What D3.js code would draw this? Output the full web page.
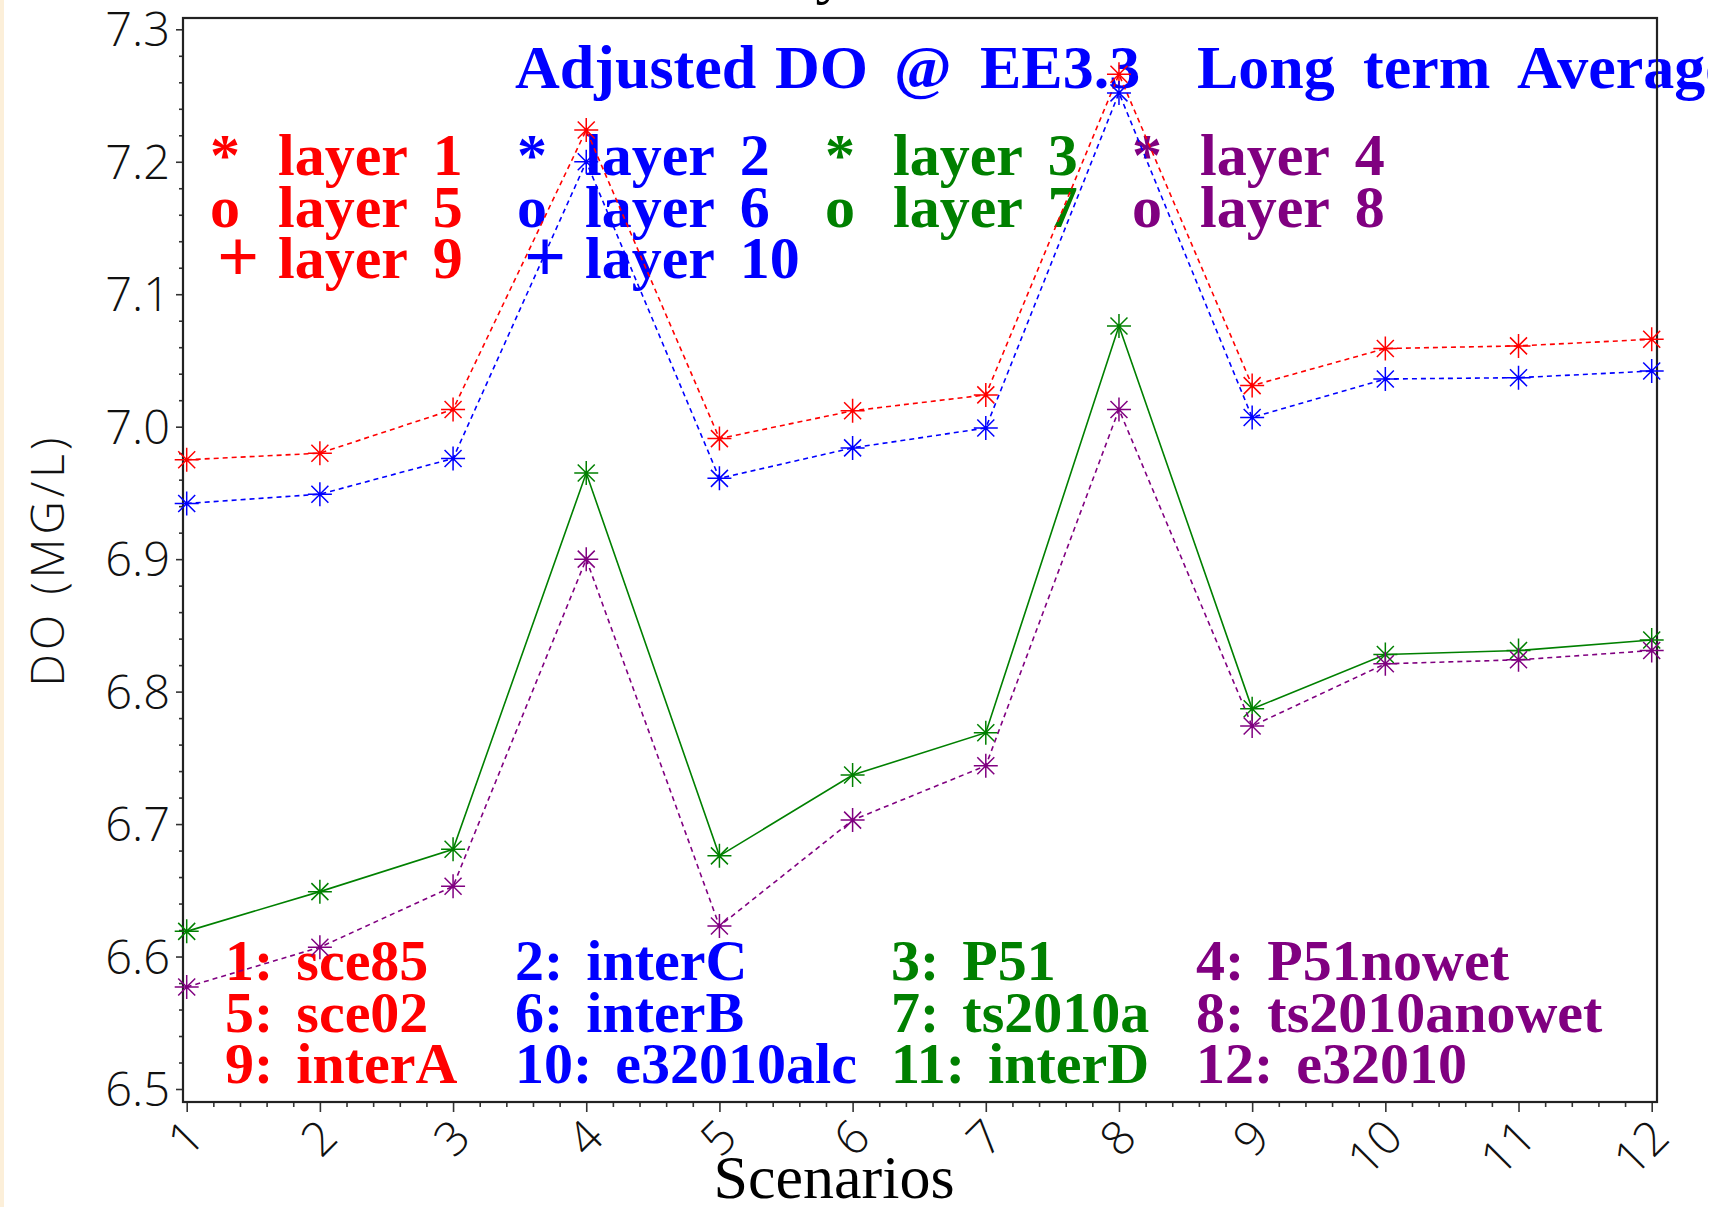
<!DOCTYPE html>
<html>
<head>
<meta charset="utf-8">
<script src="https://cdn.jsdelivr.net/npm/d3@7"></script>
<style>
  body { margin: 0; background: #ffffff; }
  svg { display: block; }
  .serif { font-family: "Liberation Serif", "Times New Roman", serif; }
  .hershey { font-family: "Open Sans", "DejaVu Sans", sans-serif; font-weight: 300; }
</style>
</head>
<body>
<svg id="chart" width="1720" height="1207"></svg>
<script>
// ---------------- data ----------------
const scenarios = [1, 2, 3, 4, 5, 6, 7, 8, 9, 10, 11, 12];
const layer1 = [6.975, 6.980, 7.013, 7.224, 6.991, 7.012, 7.024, 7.266, 7.031, 7.059, 7.061, 7.066];
const layer2 = [6.942, 6.949, 6.976, 7.200, 6.961, 6.984, 6.999, 7.252, 7.007, 7.036, 7.037, 7.042];
const layer3 = [6.619, 6.649, 6.681, 6.965, 6.676, 6.737, 6.769, 7.076, 6.787, 6.828, 6.831, 6.839];
const layer4 = [6.577, 6.607, 6.653, 6.900, 6.623, 6.703, 6.744, 7.013, 6.774, 6.821, 6.824, 6.831];
const yTickLabels = ["6.5", "6.6", "6.7", "6.8", "6.9", "7.0", "7.1", "7.2", "7.3"];
const xTickLabels = ["1", "2", "3", "4", "5", "6", "7", "8", "9", "10", "11", "12"];
const layerLabels = ["layer  1", "layer  2", "layer  3", "layer  4", "layer  5", "layer  6",
                     "layer  7", "layer  8", "layer  9", "layer  10"];
const layerSymbols = ["*", "o", "+"];
const scenarioNames = ["sce85", "interC", "P51", "P51nowet", "sce02", "interB",
                       "ts2010a", "ts2010anowet", "interA", "e32010alc", "interD", "e32010"];
const titleWords = ["Adjusted", "DO", "@", "EE3.3", "Long", "term", "Average"];
const yAxisTitle = "DO (MG/L)";
const xAxisTitle = "Scenarios";

// ---------------- styles ----------------
const colors = ["#ff0000", "#0000ff", "#008000", "#800080"];
const series = [
  { values: layer1, color: colors[0], dash: "5,4" },
  { values: layer2, color: colors[1], dash: "5,4" },
  { values: layer3, color: colors[2], dash: null },
  { values: layer4, color: colors[3], dash: "5,4" }
];

const svg = d3.select("#chart");
const frame = { left: 183, right: 1657, top: 18, bottom: 1102 };

const x = d3.scaleLinear().domain([1, 12]).range([186.7, 1651.7]);
const y = d3.scaleLinear().domain([6.5, 7.3]).range([1089, 29.3]);

// left cream strip
svg.append("rect").attr("x", 0).attr("y", 0).attr("width", 4).attr("height", 1207)
  .attr("fill", "#fcefd9");

// cut-off main title (only descender visible)
svg.append("text").attr("class", "serif")
  .attr("x", 831).attr("y", -8).attr("text-anchor", "middle")
  .attr("font-size", 62).attr("fill", "#000").text("y");

// ---------------- axes ----------------
const yMajor = yTickLabels.map(Number);
const yMinor = d3.range(0, 41).map(i => 6.5 + i * 0.02).filter(v => !yMajor.some(m => Math.abs(m - v) < 1e-6));
const xMinor = d3.range(0, 56).map(i => 1 + i * 0.2).filter(v => Math.abs(v - Math.round(v)) > 1e-6);

const gy = svg.append("g").attr("transform", `translate(${frame.left},0)`);
gy.call(d3.axisLeft(y).tickValues(yMinor).tickSize(4).tickFormat(""));
gy.append("g").call(d3.axisLeft(y).tickValues(yMajor).tickSize(7).tickFormat(""));
gy.selectAll("path.domain").remove();
gy.selectAll("line").attr("stroke", "#333").attr("stroke-width", 1.6);

const gx = svg.append("g").attr("transform", `translate(0,${frame.bottom})`);
gx.call(d3.axisBottom(x).tickValues(xMinor).tickSize(5).tickFormat(""));
gx.append("g").call(d3.axisBottom(x).tickValues(scenarios).tickSize(10).tickFormat(""));
gx.selectAll("path.domain").remove();
gx.selectAll("line").attr("stroke", "#333").attr("stroke-width", 1.6);

// y tick labels
svg.append("g").selectAll("text").data(yTickLabels).join("text")
  .attr("class", "hershey")
  .attr("x", 170).attr("y", d => y(+d) + 17)
  .attr("text-anchor", "end")
  .attr("font-size", 47).attr("fill", "#111")
  .text(d => d);

// x tick labels (rotated)
svg.append("g").selectAll("text").data(xTickLabels).join("text")
  .attr("class", "hershey")
  .attr("text-anchor", "end")
  .attr("font-size", 47).attr("fill", "#111")
  .attr("transform", (d, i) => `translate(${x(scenarios[i]) + 20},1140) rotate(-45)`)
  .text(d => d);

// axis titles
svg.append("text").attr("class", "hershey")
  .attr("transform", "translate(46,560) rotate(-90)")
  .attr("text-anchor", "middle").attr("dominant-baseline", "central")
  .attr("font-size", 46).attr("letter-spacing", 4).attr("fill", "#111")
  .text(yAxisTitle);

svg.append("text").attr("class", "serif")
  .attr("x", 834).attr("y", 1198).attr("text-anchor", "middle")
  .attr("font-size", 62).attr("fill", "#000")
  .text(xAxisTitle);

// ---------------- in-plot text ----------------
svg.append("clipPath").attr("id", "titleClip")
  .append("rect").attr("x", 0).attr("y", 0).attr("width", 1708).attr("height", 1207);

const titleX = [515, 775, 894, 980, 1197, 1363, 1517];
const title = svg.append("text").attr("class", "serif")
  .attr("clip-path", "url(#titleClip)")
  .attr("y", 88).attr("font-size", 62).attr("font-weight", "bold").attr("fill", "#0000ff");
title.selectAll("tspan").data(titleWords).join("tspan")
  .attr("x", (d, i) => titleX[i]).text(d => d);

// layer legend
const legCols = [210, 517, 825, 1132];
const legRows = [175, 226.5, 277.5];
const legG = svg.append("g").attr("class", "serif")
  .attr("font-size", 60).attr("font-weight", "bold");
layerLabels.forEach((lab, i) => {
  const col = i % 4, row = Math.floor(i / 4);
  const sym = layerSymbols[row];
  legG.append("text")
    .attr("x", legCols[col] + (sym === "+" ? 7 : 0)).attr("y", legRows[row] + (sym === "+" ? 3 : 0))
    .attr("font-size", sym === "+" ? 74 : 60)
    .attr("fill", colors[col]).text(sym);
  legG.append("text")
    .attr("x", legCols[col] + 68).attr("y", legRows[row])
    .attr("fill", colors[col])
    .attr("xml:space", "preserve").style("white-space", "pre")
    .attr("word-spacing", -2)
    .text(lab);
});

// scenario legend
const scCols = [225, 515, 891, 1196];
const scRows = [980, 1031.7, 1083.3];
const scG = svg.append("g").attr("class", "serif")
  .attr("font-size", 58).attr("font-weight", "bold");
scenarioNames.forEach((name, i) => {
  const col = i % 4, row = Math.floor(i / 4);
  scG.append("text")
    .attr("x", scCols[col]).attr("y", scRows[row])
    .attr("fill", colors[col])
    .attr("xml:space", "preserve").style("white-space", "pre")
    .attr("word-spacing", -3)
    .text(`${i + 1}:  ${name}`);
});

// ---------------- frame ----------------
svg.append("rect")
  .attr("x", frame.left).attr("y", frame.top)
  .attr("width", frame.right - frame.left).attr("height", frame.bottom - frame.top)
  .attr("fill", "none").attr("stroke", "#222").attr("stroke-width", 2.2);

// ---------------- data lines & markers ----------------
const line = d3.line().x((d, i) => x(scenarios[i])).y(d => y(d));
const r = 12, dd = 8.5;
const asterisk = `M${-r},0L${r},0M0,${-r}L0,${r}M${-dd},${-dd}L${dd},${dd}M${-dd},${dd}L${dd},${-dd}`;

series.forEach(s => {
  svg.append("path").datum(s.values)
    .attr("d", line).attr("fill", "none")
    .attr("stroke", s.color).attr("stroke-width", 1.6)
    .attr("stroke-dasharray", s.dash);
  svg.append("g").selectAll("path").data(s.values).join("path")
    .attr("transform", (d, i) => `translate(${x(scenarios[i])},${y(d)})`)
    .attr("d", asterisk).attr("fill", "none")
    .attr("stroke", s.color).attr("stroke-width", 1.5);
});
</script>
</body>
</html>
